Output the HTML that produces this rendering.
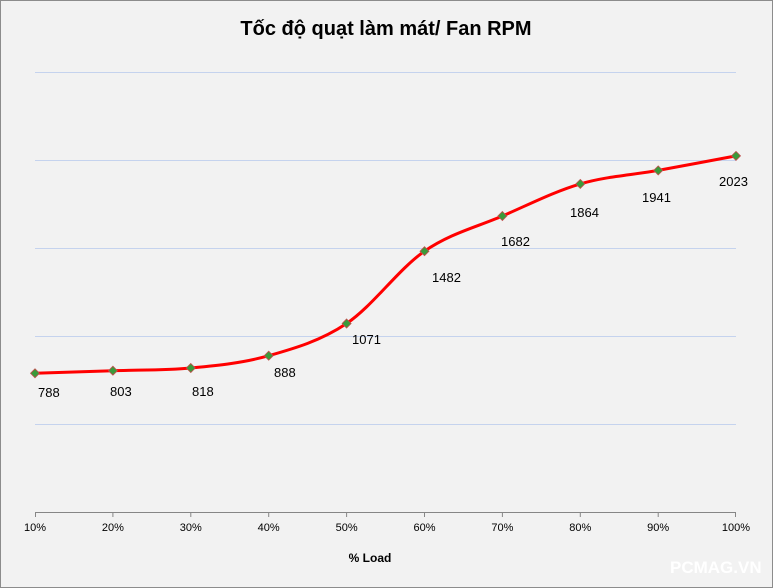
<!DOCTYPE html>
<html><head><meta charset="utf-8"><style>
body{margin:0;background:#fff}
svg{display:block;font-family:"Liberation Sans",sans-serif}
</style></head><body>
<svg width="773" height="588" viewBox="0 0 773 588">
<rect x="0.5" y="0.5" width="772" height="587" fill="#f2f2f2" stroke="#8c8c8c"/>
<text x="386" y="35" text-anchor="middle" font-size="20" font-weight="bold" fill="#000">Tốc độ quạt làm mát/ Fan RPM</text>
<g stroke="#c5d3ee" stroke-width="1">
<line x1="35" y1="72.5" x2="736" y2="72.5"/>
<line x1="35" y1="160.5" x2="736" y2="160.5"/>
<line x1="35" y1="248.5" x2="736" y2="248.5"/>
<line x1="35" y1="336.5" x2="736" y2="336.5"/>
<line x1="35" y1="424.5" x2="736" y2="424.5"/>
</g>
<g stroke="#868686" stroke-width="1">
<line x1="35" y1="512.5" x2="736" y2="512.5"/>
<line x1="35.5" y1="512" x2="35.5" y2="517"/><line x1="112.9" y1="512" x2="112.9" y2="517"/><line x1="190.8" y1="512" x2="190.8" y2="517"/><line x1="268.7" y1="512" x2="268.7" y2="517"/><line x1="346.6" y1="512" x2="346.6" y2="517"/><line x1="424.5" y1="512" x2="424.5" y2="517"/><line x1="502.4" y1="512" x2="502.4" y2="517"/><line x1="580.3" y1="512" x2="580.3" y2="517"/><line x1="658.2" y1="512" x2="658.2" y2="517"/><line x1="735.5" y1="512" x2="735.5" y2="517"/>
</g>
<g font-size="11" text-anchor="middle" fill="#000">
<text x="35" y="531">10%</text><text x="112.9" y="531">20%</text><text x="190.8" y="531">30%</text><text x="268.7" y="531">40%</text><text x="346.6" y="531">50%</text><text x="424.5" y="531">60%</text><text x="502.4" y="531">70%</text><text x="580.3" y="531">80%</text><text x="658.2" y="531">90%</text><text x="736" y="531">100%</text>
</g>
<text x="370" y="562" text-anchor="middle" font-size="12" font-weight="bold">% Load</text>
<path d="M35,373.3 C61,372.4 86.9,371.6 112.9,370.7 C138.9,369.8 164.8,370.5 190.8,368.0 C216.8,365.5 242.7,363.1 268.7,355.7 C294.7,348.3 320.6,340.9 346.6,323.5 C372.6,306.1 398.5,269.1 424.5,251.2 C450.5,233.3 476.4,227.2 502.4,216.0 C528.4,204.8 554.3,191.5 580.3,183.9 C606.3,176.3 632.2,175.1 658.2,170.4 C684.2,165.7 710,160.7 736,155.9" fill="none" stroke="#ff0000" stroke-width="3"/>
<g fill="#3a9a3a" stroke="#c0504d" stroke-width="0.8">
<path d="M35,368.8l4.5,4.5l-4.5,4.5l-4.5,-4.5z"/>
<path d="M112.9,366.2l4.5,4.5l-4.5,4.5l-4.5,-4.5z"/>
<path d="M190.8,363.5l4.5,4.5l-4.5,4.5l-4.5,-4.5z"/>
<path d="M268.7,351.2l4.5,4.5l-4.5,4.5l-4.5,-4.5z"/>
<path d="M346.6,319l4.5,4.5l-4.5,4.5l-4.5,-4.5z"/>
<path d="M424.5,246.7l4.5,4.5l-4.5,4.5l-4.5,-4.5z"/>
<path d="M502.4,211.5l4.5,4.5l-4.5,4.5l-4.5,-4.5z"/>
<path d="M580.3,179.4l4.5,4.5l-4.5,4.5l-4.5,-4.5z"/>
<path d="M658.2,165.9l4.5,4.5l-4.5,4.5l-4.5,-4.5z"/>
<path d="M736,151.4l4.5,4.5l-4.5,4.5l-4.5,-4.5z"/>
</g>
<g font-size="13" fill="#000">
<text x="38" y="397">788</text>
<text x="110" y="396">803</text>
<text x="192" y="396">818</text>
<text x="274" y="377">888</text>
<text x="352" y="344">1071</text>
<text x="432" y="282">1482</text>
<text x="501" y="246">1682</text>
<text x="570" y="217">1864</text>
<text x="642" y="202">1941</text>
<text x="719" y="186">2023</text>
</g>
<text x="670" y="573" font-size="17" font-weight="bold" fill="#ffffff">PCMAG.VN</text>
</svg>
</body></html>
